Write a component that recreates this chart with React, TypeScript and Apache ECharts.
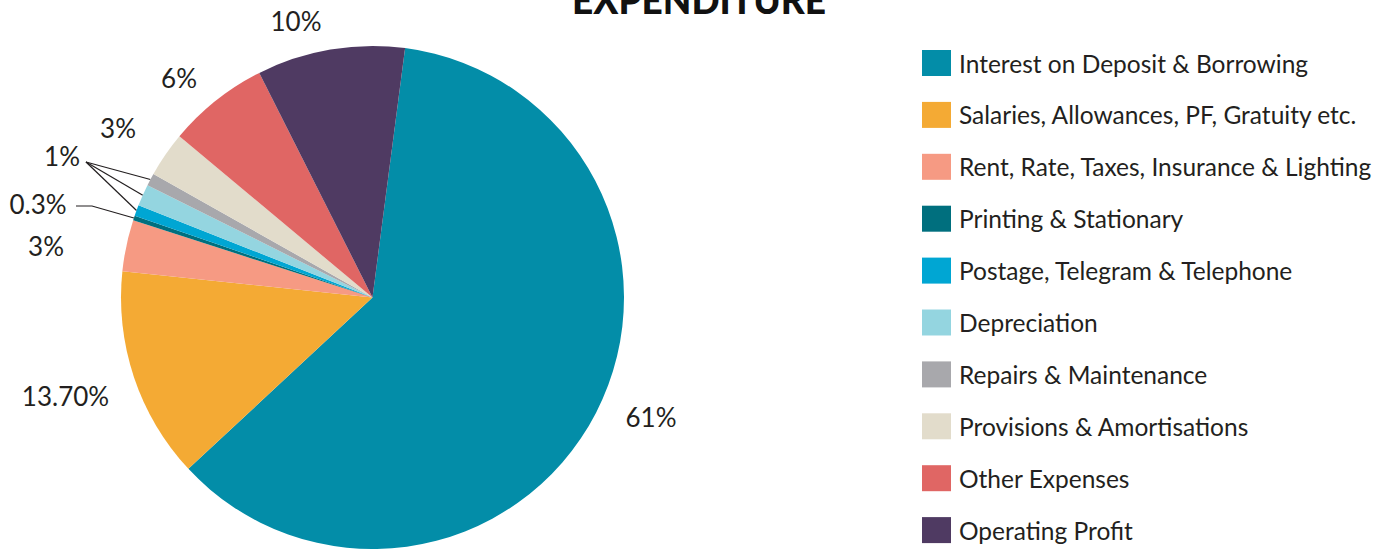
import { useEffect, useRef } from 'react';
import * as echarts from 'echarts';

const categories = [
  'Interest on Deposit & Borrowing',
  'Salaries, Allowances, PF, Gratuity etc.',
  'Rent, Rate, Taxes, Insurance & Lighting',
  'Printing & Stationary',
  'Postage, Telegram & Telephone',
  'Depreciation',
  'Repairs & Maintenance',
  'Provisions & Amortisations',
  'Other Expenses',
  'Operating Profit',
];
const values = [61, 13.6, 3.3, 0.3, 0.7, 1.4, 0.8, 2.9, 6.5, 9.5];
const valueLabels = ['61%', '13.70%', '3%', '0.3%', '', '1%', '', '3%', '6%', '10%'];
const colors = [
  '#038da8', '#f4aa34', '#f69a83', '#006f7e', '#00a6d3',
  '#94d5e0', '#a8a8ac', '#e2dccb', '#e06664', '#4f3a62',
];

// layout (label anchor positions and leader elbows), kept apart from data
const labelPos: number[][] = [
  [651, 417], [65.5, 396], [46, 246], [38, 204], [62, 156],
  [62, 156], [62, 156], [118, 128], [179, 78], [296, 21],
];
const leaderElbows: (number[][] | null)[] = [
  null, null, null, [[92, 206], [76, 206]], [[86, 162]],
  [[86, 162]], [[86, 162]], null, null, null,
];

export default function App() {
  const ref = useRef<HTMLDivElement>(null);
  useEffect(() => {
    document.body.style.margin = '0';
    const chart = echarts.init(ref.current!, undefined, { renderer: 'svg' });
    const font = 'Lato, "Open Sans", sans-serif';
    chart.setOption({
      animation: false,
      graphic: [
        {
          type: 'text',
          x: 699,
          y: -1,
          style: {
            text: 'EXPENDITURE',
            fontSize: 37,
            fontWeight: 900,
            fontFamily: font,
            fill: '#111',
            textAlign: 'center',
            textVerticalAlign: 'middle',
          },
        },
      ],
      legend: {
        orient: 'vertical',
        left: 922,
        top: 50,
        padding: 0,
        itemWidth: 29,
        itemHeight: 26,
        itemGap: 25.9,
        icon: 'rect',
        selectedMode: false,
        textStyle: {
          fontSize: 24.5,
          color: '#231f20',
          fontFamily: font,
          padding: [0, 0, 0, 3],
        },
        data: categories,
      },
      series: [
        {
          type: 'pie',
          center: [372.5, 297.5],
          radius: 251.5,
          startAngle: 82.55,
          clockwise: true,
          avoidLabelOverlap: false,
          label: {
            show: true,
            position: 'outside',
            fontSize: 26,
            color: '#231f20',
            fontFamily: font,
          },
          labelLine: {
            show: false,
            lineStyle: { color: '#231f20', width: 1.2 },
          },
          emphasis: { disabled: true },
          data: categories.map((name, i) => ({
            name,
            value: values[i],
            itemStyle: { color: colors[i] },
            label: { formatter: valueLabels[i] || ' ' },
            labelLine: { show: !!leaderElbows[i] },
          })),
          labelLayout: (params: any) => {
            const i = params.dataIndex;
            const res: any = {
              x: labelPos[i][0],
              y: labelPos[i][1],
              align: 'center',
              verticalAlign: 'middle',
            };
            const elbow = leaderElbows[i];
            if (elbow && params.labelLinePoints) {
              res.labelLinePoints = [params.labelLinePoints[0], ...elbow];
            }
            return res;
          },
        },
      ],
    });
    return () => chart.dispose();
  }, []);
  return <div ref={ref} style={{ width: 1398, height: 549 }} />;
}
